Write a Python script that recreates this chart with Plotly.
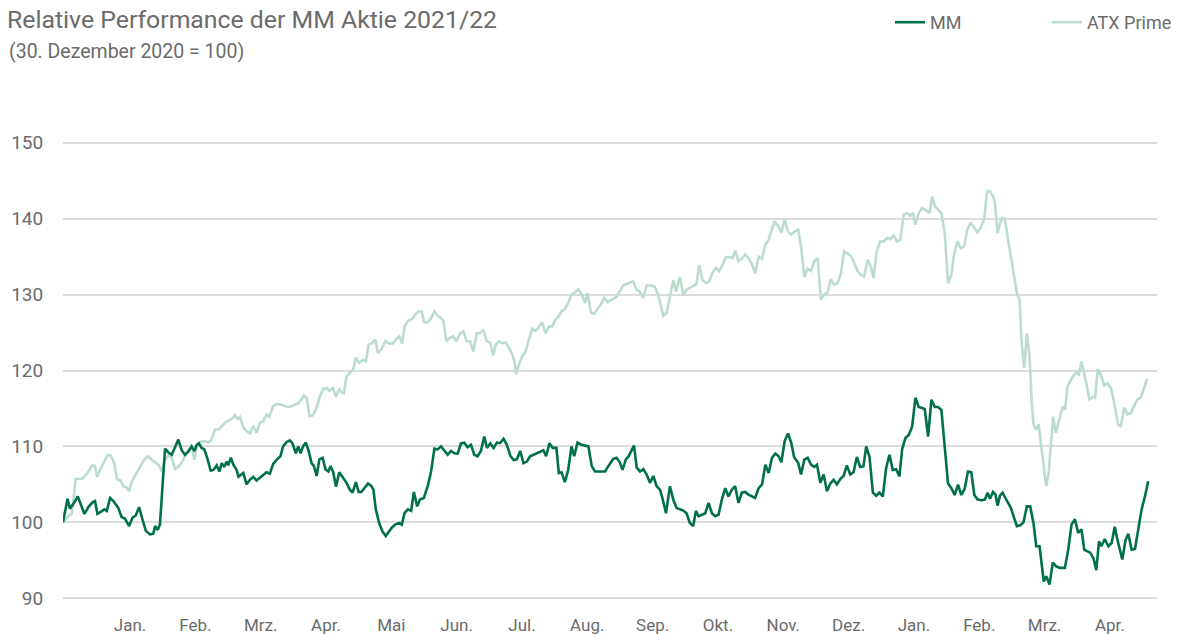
import numpy as np
import plotly.graph_objects as go

# Trading day index since 30 Dec 2020 (= day 0) and indexed performance values
mm_tag = [0, 1.5, 2.3, 3.4, 4.9, 5.6, 7.1, 8.4, 9.7, 10.6, 11.4, 12.6, 13.7, 14.5, 15.6, 16.7, 18.3, 19.4, 20.5, 21.9,
          23.0, 24.1, 25.2, 26.3, 27.4, 28.8, 29.9, 30.5, 31.4, 32.1, 33.2, 33.8, 34.9, 36.0, 37.1, 38.2, 39.3, 40.4,
          41.5, 42.6, 43.5, 44.3, 45.0, 45.9, 46.8, 47.9, 48.9, 49.8, 50.9, 51.8, 52.6, 53.4, 54.2, 54.7, 55.6, 56.4,
          57.5, 58.1, 59.7, 60.8, 61.9, 63.0, 64.1, 65.2, 66.3, 67.4, 68.5, 69.6, 70.9, 72.0, 72.9, 74.0, 75.1, 76.0,
          77.1, 77.9, 78.7, 79.5, 80.4, 81.3, 82.3, 83.1, 84.0, 84.9, 86.0, 86.9, 87.9, 88.6, 89.5, 90.4, 91.5, 92.8,
          93.9, 95.0, 95.9, 97.0, 97.9, 98.8, 99.9, 101.0, 102.1, 102.8, 103.6, 104.7, 105.8, 106.9, 107.8, 108.9,
          110.0, 111.4, 112.2, 113.1, 114.2, 115.3, 116.2, 117.3, 118.2, 119.5, 120.8, 121.9, 123.0, 124.1, 125.2,
          126.3, 127.4, 128.5, 129.6, 130.7, 131.8, 132.9, 134.0, 135.1, 136.2, 137.3, 138.4, 139.5, 140.4, 141.5,
          142.6, 143.7, 144.8, 145.9, 147.0, 148.1, 149.2, 150.3, 151.4, 152.5, 153.6, 154.7, 155.8, 156.9, 158.0,
          159.1, 160.0, 161.1, 162.2, 163.4, 164.2, 165.1, 166.2, 167.3, 168.4, 169.3, 170.4, 171.7, 172.9, 174.0,
          175.1, 176.2, 177.8, 179.5, 180.6, 181.7, 182.2, 183.3, 184.4, 185.3, 186.4, 187.3, 188.4, 189.1, 190.0,
          191.1, 192.2, 193.3, 194.4, 195.5, 196.6, 197.7, 198.5, 199.7, 201.0, 202.1, 203.2, 204.3, 205.4, 206.5,
          207.6, 208.7, 209.6, 210.5, 211.6, 212.7, 213.8, 214.9, 216.0, 217.1, 218.2, 219.3, 220.4, 221.5, 222.6,
          223.7, 224.8, 225.9, 227.0, 228.1, 229.2, 230.4, 231.5, 232.6, 233.7, 234.8, 235.9, 237.0, 237.9, 239.0,
          240.1, 241.2, 242.1, 243.5, 244.4, 245.5, 246.6, 247.7, 248.8, 249.7, 250.8, 251.9, 253.0, 254.1, 255.2,
          256.3, 257.4, 258.5, 259.6, 260.7, 261.8, 262.9, 264.0, 265.1, 266.0, 267.1, 268.2, 269.3, 270.4, 271.5,
          272.6, 273.7, 274.8, 275.9, 277.0, 277.9, 279.0, 280.1, 281.2, 282.3, 283.4, 284.5, 285.4, 286.5, 287.6,
          288.7, 289.8, 290.9, 292.0, 293.1, 294.2, 295.3, 296.4, 297.5, 298.6, 299.7, 300.8, 301.8, 302.9, 304.2,
          305.3, 306.2, 307.0, 308.0, 308.8, 309.5, 310.3, 311.2, 312.1, 313.0, 313.9, 314.8, 315.9, 317.0, 318.1,
          319.2, 320.3, 321.4, 322.3, 323.4, 324.1, 324.8, 325.6, 326.7, 327.8, 328.9, 330.2, 331.8, 332.9, 334.0,
          335.1, 336.2, 337.3, 338.2, 339.1, 340.2, 341.3, 342.2, 343.1, 343.9, 345.0, 346.2, 347.3, 348.3, 349.2,
          350.1, 350.8, 351.9, 352.8, 353.9, 355.0, 356.1, 357.2, 358.3, 359.4]
mm_wert = [100.0, 103.1, 101.8, 102.4, 103.4, 102.6, 101.1, 102.0, 102.6, 102.8, 101.1, 101.4, 101.7, 101.5, 103.2,
           102.8, 101.9, 100.7, 100.5, 99.5, 100.6, 100.9, 102.0, 100.4, 98.9, 98.4, 98.5, 99.5, 99.0, 99.7, 106.5,
           109.7, 109.2, 108.9, 109.9, 110.9, 109.5, 108.9, 109.3, 110.0, 109.4, 110.2, 110.4, 109.8, 109.6, 108.3,
           106.8, 106.9, 107.5, 106.7, 107.8, 107.3, 108.0, 107.5, 108.5, 107.6, 106.9, 106.0, 106.5, 105.0, 105.6,
           106.0, 105.5, 105.9, 106.2, 106.6, 106.4, 107.7, 108.3, 108.7, 110.0, 110.55, 110.8, 110.4, 109.1, 110.0,
           109.1, 110.0, 110.5, 109.5, 107.8, 107.4, 106.1, 108.3, 108.5, 107.0, 106.7, 107.4, 106.6, 104.7, 106.6,
           105.9, 105.2, 104.3, 103.9, 105.3, 104.0, 104.0, 104.5, 105.1, 104.8, 104.3, 101.7, 99.9, 98.8, 98.2,
           98.7, 99.3, 99.7, 99.9, 99.7, 101.2, 101.7, 101.5, 104.0, 102.1, 103.0, 103.2, 104.8, 106.7, 109.7, 109.6,
           110.0, 109.4, 108.9, 109.4, 109.1, 109.05, 110.4, 110.5, 109.9, 110.2, 108.9, 108.7, 109.4, 111.3, 109.8,
           110.4, 109.8, 110.5, 110.45, 111.0, 110.2, 108.8, 108.2, 108.3, 109.4, 107.8, 108.0, 108.7, 108.9, 109.05,
           109.2, 109.5, 108.7, 110.4, 109.8, 109.8, 106.5, 106.6, 105.3, 106.9, 110.0, 108.7, 110.5, 110.2, 110.1,
           110.0, 107.4, 106.7, 106.7, 106.7, 107.4, 108.0, 108.35, 108.5, 107.9, 106.9, 108.3, 108.7, 109.7, 110.1,
           107.2, 106.7, 107.0, 106.3, 105.2, 106.1, 104.75, 104.3, 103.2, 101.2, 104.75, 103.0, 101.9, 101.7,
           101.55, 101.2, 99.9, 99.5, 101.5, 100.8, 101.0, 101.2, 102.55, 101.2, 100.8, 101.0, 103.0, 104.5, 103.4,
           104.3, 104.75, 102.55, 103.9, 104.0, 103.65, 103.4, 103.2, 104.5, 105.0, 107.6, 106.5, 108.5, 109.05,
           108.7, 107.9, 110.7, 111.7, 110.45, 108.6, 107.8, 106.3, 108.25, 108.5, 107.6, 107.3, 107.6, 105.2, 106.3,
           104.1, 105.1, 105.6, 105.0, 105.7, 106.1, 107.5, 106.3, 106.6, 108.6, 107.3, 107.4, 110.0, 108.6, 103.9,
           103.5, 103.9, 103.4, 107.15, 108.9, 106.9, 107.0, 106.05, 109.65, 111.1, 111.5, 112.6, 116.4, 115.2,
           115.05, 114.9, 111.3, 116.15, 115.2, 115.2, 114.8, 110.4, 105.1, 104.5, 103.6, 104.95, 103.6, 104.4,
           106.7, 106.6, 103.6, 103.0, 102.9, 103.0, 103.9, 103.1, 104.0, 103.65, 102.2, 103.5, 103.9, 103.2, 102.5,
           101.9, 100.8, 99.5, 99.6, 100.0, 102.1, 102.1, 99.9, 96.85, 96.85, 94.65, 92.2, 92.9, 91.8, 94.7, 94.2,
           94.0, 94.0, 96.4, 99.7, 100.4, 98.6, 99.05, 96.4, 96.2, 96.0, 95.2, 93.7, 97.5, 96.85, 97.8, 96.85, 97.3,
           99.4, 97.7, 96.05, 95.1, 97.7, 98.5, 96.4, 96.5, 99.05, 101.7, 103.4, 105.4]

atx_tag = [0, 1.8, 2.9, 4.2, 6.2, 7.3, 8.4, 9.7, 10.6, 11.3, 12.4, 13.9, 14.8, 15.9, 17.0, 17.9, 19.0, 20.1, 21.0,
           21.9, 22.7, 24.1, 25.5, 26.9, 28.0, 29.4, 30.5, 31.6, 32.7, 33.8, 34.9, 36.0, 37.1, 38.4, 39.5, 40.6,
           41.7, 42.6, 43.5, 44.3, 45.0, 46.5, 48.1, 49.2, 50.3, 51.7, 52.7, 53.9, 55.0, 56.1, 56.9, 57.8, 58.6,
           59.7, 60.8, 61.9, 63.0, 64.1, 65.2, 66.3, 67.4, 68.3, 69.6, 70.7, 72.4, 74.1, 75.7, 76.8, 77.9, 79.0,
           79.8, 80.7, 81.6, 82.7, 83.8, 85.1, 86.2, 87.3, 88.2, 89.3, 90.4, 91.5, 92.3, 93.0, 93.9, 95.0, 96.1,
           97.0, 98.1, 99.2, 100.3, 101.2, 102.3, 103.4, 104.3, 105.4, 106.8, 107.8, 109.1, 110.5, 111.4, 112.3,
           113.1, 114.2, 115.6, 116.9, 118.0, 118.8, 119.5, 120.4, 121.7, 123.0, 124.1, 125.2, 126.0, 127.0, 128.1,
           129.2, 130.3, 131.5, 132.6, 133.7, 134.8, 135.9, 137.0, 138.1, 139.2, 140.3, 141.4, 142.5, 143.3, 144.4,
           145.5, 146.6, 147.7, 148.8, 149.5, 150.1, 151.0, 152.1, 153.2, 154.3, 155.4, 156.5, 157.6, 158.7, 159.8,
           160.9, 162.0, 163.1, 164.2, 165.1, 166.2, 167.3, 168.4, 169.6, 170.7, 171.8, 172.9, 173.7, 174.9, 176.0,
           177.1, 178.1, 179.3, 180.4, 181.5, 182.2, 183.3, 184.4, 185.5, 186.6, 187.7, 188.8, 189.9, 191.0, 192.2,
           193.3, 194.9, 196.0, 197.1, 197.9, 198.8, 199.9, 200.8, 202.1, 203.0, 204.3, 205.4, 206.5, 207.6, 208.7,
           209.8, 210.7, 211.8, 212.9, 214.0, 215.1, 216.2, 217.3, 218.4, 219.5, 220.6, 221.7, 222.6, 223.7, 224.8,
           225.9, 227.0, 228.1, 229.2, 230.4, 231.5, 232.6, 233.7, 234.5, 235.6, 236.7, 237.9, 239.0, 240.1, 241.2,
           242.3, 243.5, 244.4, 245.5, 246.6, 247.7, 248.8, 249.9, 251.0, 252.1, 253.2, 254.3, 255.4, 256.5, 257.6,
           258.7, 259.8, 260.9, 262.0, 263.1, 264.2, 265.3, 266.5, 267.6, 268.4, 269.5, 270.6, 271.8, 272.9, 274.0,
           275.1, 276.2, 277.3, 278.4, 279.5, 280.6, 281.5, 282.3, 283.4, 284.5, 285.9, 287.0, 287.8, 288.7, 289.8,
           290.9, 292.0, 293.1, 294.2, 295.1, 296.2, 297.3, 298.4, 299.5, 300.6, 301.7, 302.8, 303.9, 305.1, 306.0,
           307.0, 308.1, 308.6, 309.5, 310.3, 311.1, 311.9, 313.0, 314.1, 315.0, 315.9, 316.8, 317.4, 318.3, 319.2,
           320.1, 320.7, 321.4, 322.2, 323.1, 324.0, 324.9, 325.6, 326.4, 327.3, 327.9, 328.8, 329.6, 330.5, 331.2,
           331.8, 332.7, 333.3, 334.4, 335.5, 336.4, 337.3, 338.2, 339.2, 339.9, 341.0, 341.8, 342.7, 343.8, 344.8,
           345.9, 347.0, 347.9, 348.8, 349.4, 350.3, 351.4, 352.5, 353.6, 354.7, 355.8, 356.8, 357.9, 359.0]
atx_wert = [100.0, 100.8, 101.1, 105.7, 105.7, 106.1, 106.7, 107.5, 107.4, 106.0, 107.0, 108.2, 108.9, 108.8, 107.7,
            105.7, 105.5, 104.7, 104.6, 104.1, 105.3, 106.3, 107.3, 108.25, 108.7, 108.2, 107.9, 107.6, 106.7,
            108.25, 108.8, 108.5, 107.0, 107.4, 108.0, 108.9, 109.6, 110.2, 108.25, 110.0, 110.5, 110.7, 110.5,
            110.9, 112.2, 112.3, 112.7, 113.2, 113.4, 113.7, 114.1, 113.6, 113.9, 112.5, 112.0, 111.7, 112.7, 111.8,
            113.1, 113.3, 114.2, 113.9, 115.3, 115.6, 115.5, 115.2, 115.3, 115.5, 115.7, 116.2, 116.7, 116.4, 114.0,
            114.1, 114.9, 116.6, 117.6, 117.7, 117.3, 117.7, 116.6, 117.5, 117.1, 117.0, 119.2, 119.7, 120.1, 121.7,
            121.0, 121.4, 121.2, 123.4, 123.6, 124.1, 122.3, 122.8, 123.9, 123.6, 123.5, 124.2, 124.5, 123.5, 125.8,
            126.5, 126.8, 127.5, 127.8, 127.8, 126.4, 126.3, 126.7, 127.8, 127.2, 126.9, 126.5, 123.85, 124.3, 124.5,
            123.85, 124.9, 125.2, 123.85, 123.85, 122.5, 124.9, 124.9, 125.4, 123.85, 123.7, 122.0, 123.4, 123.85,
            123.6, 123.7, 123.0, 122.1, 121.2, 119.5, 120.8, 121.9, 122.5, 124.1, 125.5, 125.2, 125.8, 126.35, 124.9,
            125.8, 125.8, 126.7, 127.15, 127.8, 128.1, 128.9, 130.0, 130.3, 130.7, 130.0, 128.9, 130.2, 127.6, 127.5,
            128.2, 128.7, 129.6, 129.0, 129.3, 129.4, 129.7, 130.4, 131.2, 131.4, 131.6, 131.75, 130.7, 130.4, 129.55,
            131.2, 131.2, 131.0, 130.0, 128.7, 127.2, 127.6, 129.4, 131.9, 130.4, 132.3, 130.0, 130.65, 130.9, 131.2,
            131.4, 133.9, 131.9, 131.5, 131.75, 132.9, 133.5, 133.1, 133.9, 134.95, 134.95, 134.8, 135.8, 134.4,
            134.7, 135.3, 134.8, 134.1, 132.8, 135.0, 134.7, 136.6, 137.2, 138.3, 139.65, 139.1, 138.2, 139.8, 138.3,
            137.9, 138.3, 138.55, 136.4, 132.3, 133.4, 133.1, 134.4, 134.8, 129.3, 130.0, 130.3, 132.05, 131.3, 131.5,
            132.8, 135.7, 135.4, 135.1, 134.2, 133.1, 132.6, 132.4, 134.6, 133.6, 132.2, 135.7, 137.0, 137.0, 137.45,
            137.3, 137.8, 137.0, 137.2, 140.5, 140.75, 140.4, 140.75, 139.2, 140.75, 141.4, 141.1, 140.75, 142.9,
            141.7, 141.2, 140.75, 138.1, 131.5, 132.6, 135.3, 137.0, 136.1, 136.35, 138.55, 139.5, 138.8, 138.2,
            138.8, 140.0, 143.6, 143.6, 142.85, 142.1, 138.1, 139.4, 140.1, 140.0, 137.2, 134.6, 132.0, 130.2, 129.3,
            124.1, 120.3, 124.9, 121.9, 116.6, 112.9, 112.2, 112.9, 110.0, 106.9, 104.75, 106.5, 111.3, 113.9, 111.8,
            113.2, 114.4, 115.3, 114.85, 117.9, 118.4, 119.2, 119.7, 119.45, 121.2, 119.7, 117.7, 116.2, 116.5, 116.4,
            120.2, 119.3, 118.0, 118.3, 117.7, 116.2, 114.4, 112.9, 112.6, 115.1, 114.2, 114.4, 115.3, 116.2, 116.4,
            117.5, 118.9]

monate = ["Jan.", "Feb.", "Mrz.", "Apr.", "Mai", "Jun.", "Jul.", "Aug.", "Sep.", "Okt.", "Nov.", "Dez.",
          "Jan.", "Feb.", "Mrz.", "Apr."]
y_ticks = [90, 100, 110, 120, 130, 140, 150]

FONT = "Roboto, 'Noto Sans', sans-serif"
GREY = "#6b6b6b"
MM_COLOR = "#00704a"
ATX_COLOR = "#bcdccd"

W, H = 1178, 634
L, R, T, B = 63, 21, 139, 32
PH = H - T - B

x_ticks = np.linspace(22.2, 346.7, len(monate))

fig = go.Figure()
fig.add_trace(go.Scatter(x=atx_tag, y=atx_wert, mode="lines", name="ATX Prime",
                         line=dict(color=ATX_COLOR, width=2.6)))
fig.add_trace(go.Scatter(x=mm_tag, y=mm_wert, mode="lines", name="MM",
                         line=dict(color=MM_COLOR, width=2.6)))

fig.update_layout(
    width=W, height=H,
    margin=dict(l=L, r=R, t=T, b=B, autoexpand=False),
    paper_bgcolor="white", plot_bgcolor="white",
    font=dict(family=FONT, color=GREY, size=17),
    title=dict(text="Relative Performance der MM Aktie 2021/22", x=7 / W, xanchor="left",
               xref="container", yref="container", y=1 - 11 / H, yanchor="top",
               pad=dict(t=0, b=0, l=0, r=0),
               font=dict(family=FONT, size=24.8, color=GREY)),
    showlegend=True,
    legend=dict(orientation="h", xref="container", yref="container",
                x=890 / W, xanchor="left", y=1 - 4 / H, yanchor="top",
                font=dict(family=FONT, size=18, color=GREY), traceorder="reversed",
                entrywidth=112, entrywidthmode="pixels", bgcolor="rgba(0,0,0,0)"),
    annotations=[dict(text="(30. Dezember 2020 = 100)", xref="paper", yref="paper",
                      x=-(L - 7) / (W - L - R), y=1 + (T - 52) / PH, xanchor="left", yanchor="middle",
                      showarrow=False, font=dict(family=FONT, size=19.5, color=GREY))],
)
fig.update_xaxes(range=[0, 362.3], showgrid=False, zeroline=False, showline=False, automargin=False,
                 tickvals=x_ticks, ticktext=monate, ticks="outside", ticklen=8,
                 tickcolor="rgba(0,0,0,0)", tickfont=dict(size=17, color=GREY))
fig.update_yaxes(range=[89.5, 150.5], tickvals=y_ticks, showgrid=True, gridcolor="#dcdcdc",
                 gridwidth=2, zeroline=False, showline=False, automargin=False,
                 ticks="outside", ticklen=15,
                 tickcolor="rgba(0,0,0,0)", tickfont=dict(size=19, color=GREY))

fig.write_html("out.html")
